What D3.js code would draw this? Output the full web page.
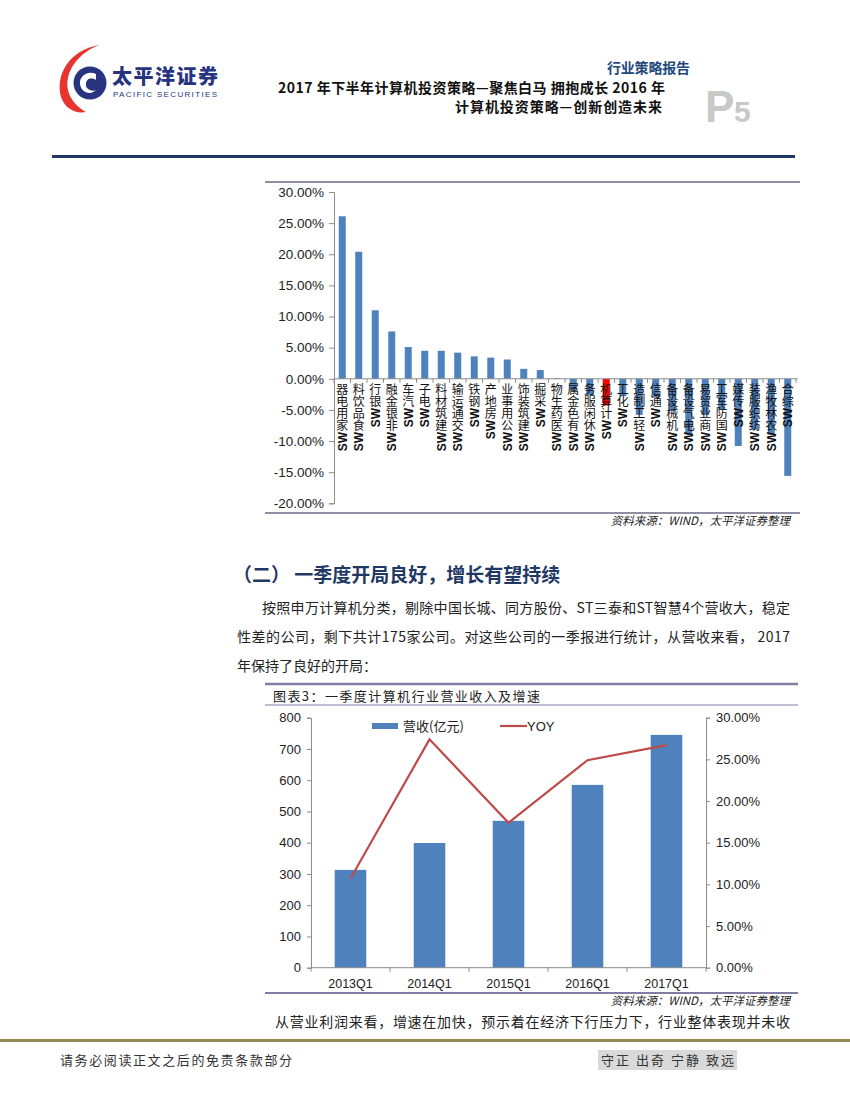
<!DOCTYPE html>
<meta charset="utf-8">
<style>
body { margin: 0; background: #fff; }
svg { display: block; }
text { font-family: "Liberation Sans", Arial, sans-serif; }
.cjk { font-family: "Noto Sans CJK SC", sans-serif; }
.axis path, .axis line { stroke: #8c8c8c; }
.axis text { fill: #222; }
</style>
<svg width="850" height="1100"></svg>
<script src="https://cdnjs.cloudflare.com/ajax/libs/d3/7.8.5/d3.min.js"></script>
<script>

// chart 1: SW industries, return (%)
var industries = ["家用电器","食品饮料","银行","非银金融","汽车","电子","建筑材料","交通运输",
  "钢铁","房地产","公用事业","建筑装饰","采掘","医药生物","有色金属","休闲服务","计算机",
  "化工","轻工制造","通信","机械设备","电气设备","商业贸易","国防军工","传媒","纺织服装",
  "农林牧渔","综合"];
var returns = [26.1, 20.4, 11.0, 7.6, 5.1, 4.5, 4.5, 4.2, 3.6, 3.4, 3.1, 1.6, 1.4, 0.1,
  -1.9, -2.6, -4.3, -2.8, -5.8, -3.0, -5.2, -9.0, -5.8, -5.0, -10.8, -8.2, -9.0, -15.6];
var highlight = "计算机";
var pctTicks = [30, 25, 20, 15, 10, 5, 0, -5, -10, -15, -20];

// chart 2: Q1 revenue and yoy growth
var quarters = ["2013Q1", "2014Q1", "2015Q1", "2016Q1", "2017Q1"];
var revenue = [313, 399, 470, 585, 745];
var yoy = [10.7, 27.4, 17.4, 24.9, 26.7];
var revTicks = [0, 100, 200, 300, 400, 500, 600, 700, 800];
var yoyTicks = [0, 5, 10, 15, 20, 25, 30];

var svg = d3.select("svg");
var pct = d => (d < 0 ? "-" : "") + Math.abs(d).toFixed(2) + "%";

// ---------- page header ----------
var logo = svg.append("g");
logo.append("path")
    .attr("d", "M99,45 C70,50 55,74 61,97 C65,109 76,114 86,112 C72,104 65,91 68,78 C71,63 84,51 99,45 Z")
    .attr("fill", "#e8342f");
logo.append("circle").attr("cx", 90).attr("cy", 83).attr("r", 16.5).attr("fill", "#27347f");
logo.append("path")
    .attr("d", "M96,74 C87,70 79,77 80,84 C81,92 90,96 96,90 C92,92 85,89 86,84 C86,79 91,77 96,80 Z")
    .attr("fill", "#fff");
logo.append("text").attr("class", "cjk")
    .attr("x", 112).attr("y", 84).attr("font-size", 20).attr("font-weight", 900)
    .attr("fill", "#27347f").attr("textLength", 106).text("太平洋证券");
logo.append("text")
    .attr("x", 113).attr("y", 97).attr("font-size", 8)
    .attr("fill", "#27347f").attr("textLength", 104).text("PACIFIC SECURITIES");

svg.append("text").attr("class", "cjk")
    .attr("x", 607).attr("y", 73).attr("font-size", 14).attr("font-weight", 700)
    .attr("fill", "#1f497d").attr("textLength", 83).text("行业策略报告");
svg.append("text").attr("class", "cjk")
    .attr("x", 278).attr("y", 93)
    .attr("font-size", 14).attr("font-weight", 700).attr("fill", "#111")
    .attr("textLength", 387).attr("lengthAdjust", "spacing")
    .text("2017 年下半年计算机投资策略—聚焦白马 拥抱成长 2016 年");
svg.append("text").attr("class", "cjk")
    .attr("x", 455).attr("y", 112)
    .attr("font-size", 14).attr("font-weight", 700).attr("fill", "#111")
    .attr("textLength", 207).attr("lengthAdjust", "spacing")
    .text("计算机投资策略—创新创造未来");
svg.append("text")
    .attr("x", 705).attr("y", 122).attr("font-family", "Liberation Serif")
    .attr("font-size", 44).attr("font-weight", 700).attr("fill", "#c8c8c8").text("P");
svg.append("text")
    .attr("x", 734).attr("y", 122).attr("font-family", "Liberation Serif")
    .attr("font-size", 30).attr("font-weight", 700).attr("fill", "#c8c8c8").text("5");

svg.append("rect").attr("x", 52).attr("y", 155).attr("width", 743).attr("height", 3)
    .attr("fill", "#1f3864");

// ---------- chart 1 ----------
svg.append("line").attr("x1", 265).attr("x2", 800).attr("y1", 182).attr("y2", 182)
    .attr("stroke", "#6a6a86").attr("stroke-width", 1.5);
svg.append("line").attr("x1", 265).attr("x2", 800).attr("y1", 513).attr("y2", 513)
    .attr("stroke", "#6a6a86").attr("stroke-width", 1.5);

var x1 = d3.scaleBand().domain(industries).range([334, 796])
    .paddingInner(0.576).paddingOuter(0.288);
var y1 = d3.scaleLinear().domain([-20, 30]).range([503.3, 192]);
var step1 = x1.step();

svg.append("g").attr("class", "axis")
    .attr("transform", "translate(334,0)")
    .call(d3.axisLeft(y1).tickValues(pctTicks).tickSize(5).tickPadding(5).tickFormat(pct))
    .call(g => g.selectAll("text").attr("font-size", 13.5));

svg.append("g").selectAll("rect").data(industries).join("rect")
    .attr("x", d => x1(d))
    .attr("width", x1.bandwidth())
    .attr("y", (d, i) => y1(Math.max(0, returns[i])))
    .attr("height", (d, i) => Math.abs(y1(returns[i]) - y1(0)))
    .attr("fill", d => d === highlight ? "#ff0000" : "#4f81bd");

var zeroY = y1(0);
svg.append("line").attr("x1", 334).attr("x2", 798).attr("y1", zeroY).attr("y2", zeroY)
    .attr("stroke", "#8c8c8c");
svg.append("g").selectAll("line").data(industries.concat([null])).join("line")
    .attr("x1", (d, i) => 334 + i * step1).attr("x2", (d, i) => 334 + i * step1)
    .attr("y1", zeroY).attr("y2", zeroY + 4).attr("stroke", "#8c8c8c");

// category labels: text turned to read upward, CJK glyphs turned back upright
var fs1 = 12;
var lab = svg.append("g").selectAll("text").data(industries).join("text")
    .attr("transform", d => "translate(" + (x1(d) + x1.bandwidth() / 2) + "," + (zeroY + 3) + ") rotate(-90)")
    .attr("text-anchor", "end")
    .attr("font-size", fs1).attr("fill", "#111")
    .attr("dy", "4.3 0 " + (-4.3 - fs1 / 2))
    .attr("rotate", d => [0, 0].concat(d.split("").map(() => 90)).join(" "));
lab.append("tspan").attr("font-weight", 700).text("SW");
lab.append("tspan").attr("class", "cjk").attr("dx", 2).text(d => d);

svg.append("text").attr("class", "cjk")
    .attr("x", 790).attr("y", 525).attr("text-anchor", "end")
    .attr("font-size", 11.5).attr("font-style", "italic").attr("fill", "#222")
    .text("资料来源：WIND，太平洋证券整理");

// ---------- body text ----------
svg.append("text").attr("class", "cjk")
    .attr("x", 233).attr("y", 582).attr("font-size", 19).attr("font-weight", 700)
    .attr("fill", "#1f3864").text("（二） 一季度开局良好，增长有望持续");

var body = [
  {x: 262, y: 613, w: 528, t: "按照申万计算机分类，剔除中国长城、同方股份、ST三泰和ST智慧4个营收大，稳定"},
  {x: 237, y: 642, w: 553, t: "性差的公司，剩下共计175家公司。对这些公司的一季报进行统计，从营收来看， 2017"},
  {x: 237, y: 671, w: 0, t: "年保持了良好的开局："}
];
body.forEach(function(b) {
  var t = svg.append("text").attr("class", "cjk")
      .attr("x", b.x).attr("y", b.y).attr("font-size", 14).attr("fill", "#222").text(b.t);
  if (b.w) t.attr("textLength", b.w).attr("lengthAdjust", "spacing");
});

// ---------- chart 2 ----------
svg.append("line").attr("x1", 265).attr("x2", 798).attr("y1", 684).attr("y2", 684)
    .attr("stroke", "#7f7fa6").attr("stroke-width", 2.5);
svg.append("text").attr("class", "cjk")
    .attr("x", 273).attr("y", 701).attr("font-size", 13).attr("fill", "#222")
    .attr("textLength", 267).attr("lengthAdjust", "spacing")
    .text("图表3：一季度计算机行业营业收入及增速");
svg.append("line").attr("x1", 265).attr("x2", 798).attr("y1", 705).attr("y2", 705)
    .attr("stroke", "#7f7fa6").attr("stroke-width", 1.2);

var left2 = 311, right2 = 706;
var x2 = d3.scaleBand().domain(quarters).range([left2, right2])
    .paddingInner(0.6).paddingOuter(0.3);
var yL = d3.scaleLinear().domain([0, 800]).range([967.7, 717.7]);
var yR = d3.scaleLinear().domain([0, 30]).range([967.7, 717.7]);

svg.append("g").attr("class", "axis")
    .attr("transform", "translate(" + left2 + ",0)")
    .call(d3.axisLeft(yL).tickValues(revTicks).tickSize(4).tickPadding(6))
    .call(g => g.selectAll("text").attr("font-size", 13));
svg.append("g").attr("class", "axis")
    .attr("transform", "translate(" + right2 + ",0)")
    .call(d3.axisRight(yR).tickValues(yoyTicks).tickSize(4).tickPadding(6).tickFormat(pct))
    .call(g => g.selectAll("text").attr("font-size", 13));

svg.append("g").selectAll("rect").data(quarters).join("rect")
    .attr("x", d => x2(d)).attr("width", x2.bandwidth())
    .attr("y", (d, i) => yL(revenue[i]))
    .attr("height", (d, i) => yL(0) - yL(revenue[i]))
    .attr("fill", "#4f81bd");

var xAxis2 = svg.append("g");
xAxis2.append("line").attr("x1", left2).attr("x2", right2)
    .attr("y1", yL(0)).attr("y2", yL(0)).attr("stroke", "#8c8c8c");
xAxis2.selectAll(".tk").data(d3.range(quarters.length + 1)).join("line")
    .attr("x1", i => left2 + i * x2.step()).attr("x2", i => left2 + i * x2.step())
    .attr("y1", yL(0)).attr("y2", yL(0) + 4).attr("stroke", "#8c8c8c");
xAxis2.selectAll("text").data(quarters).join("text")
    .attr("x", d => x2(d) + x2.bandwidth() / 2).attr("y", yL(0) + 20)
    .attr("text-anchor", "middle").attr("font-size", 12.5).attr("fill", "#222").text(d => d);

var line2 = d3.line()
    .x((d, i) => x2(quarters[i]) + x2.bandwidth() / 2)
    .y(d => yR(d));
svg.append("path").datum(yoy).attr("d", line2)
    .attr("fill", "none").attr("stroke", "#be4b48").attr("stroke-width", 2.2);

// legend
svg.append("rect").attr("x", 372).attr("y", 723).attr("width", 26).attr("height", 6)
    .attr("fill", "#4f81bd");
svg.append("text").attr("class", "cjk")
    .attr("x", 403).attr("y", 731).attr("font-size", 13).attr("fill", "#222").text("营收(亿元)");
svg.append("line").attr("x1", 500).attr("x2", 527).attr("y1", 726).attr("y2", 726)
    .attr("stroke", "#be4b48").attr("stroke-width", 2.2);
svg.append("text")
    .attr("x", 527).attr("y", 731).attr("font-size", 13).attr("fill", "#222").text("YOY");

svg.append("line").attr("x1", 265).attr("x2", 798).attr("y1", 993).attr("y2", 993)
    .attr("stroke", "#7f7fa6").attr("stroke-width", 2);
svg.append("text").attr("class", "cjk")
    .attr("x", 790).attr("y", 1005).attr("text-anchor", "end")
    .attr("font-size", 11.5).attr("font-style", "italic").attr("fill", "#222")
    .text("资料来源：WIND，太平洋证券整理");

svg.append("text").attr("class", "cjk")
    .attr("x", 275).attr("y", 1027).attr("font-size", 14).attr("fill", "#222")
    .attr("textLength", 515).attr("lengthAdjust", "spacing")
    .text("从营业利润来看，增速在加快，预示着在经济下行压力下，行业整体表现并未收");

// ---------- footer ----------
svg.append("rect").attr("x", 0).attr("y", 1039).attr("width", 850).attr("height", 3)
    .attr("fill", "#948a54");
svg.append("text").attr("class", "cjk")
    .attr("x", 60).attr("y", 1065).attr("font-size", 13).attr("fill", "#333")
    .attr("textLength", 232).attr("lengthAdjust", "spacing")
    .text("请务必阅读正文之后的免责条款部分");
svg.append("rect").attr("x", 598).attr("y", 1050).attr("width", 139).attr("height", 20)
    .attr("fill", "#d9d9d9");
svg.append("text").attr("class", "cjk")
    .attr("x", 601).attr("y", 1065).attr("font-size", 13).attr("fill", "#333")
    .attr("textLength", 133).attr("lengthAdjust", "spacing")
    .text("守正 出奇 宁静 致远");

</script>
